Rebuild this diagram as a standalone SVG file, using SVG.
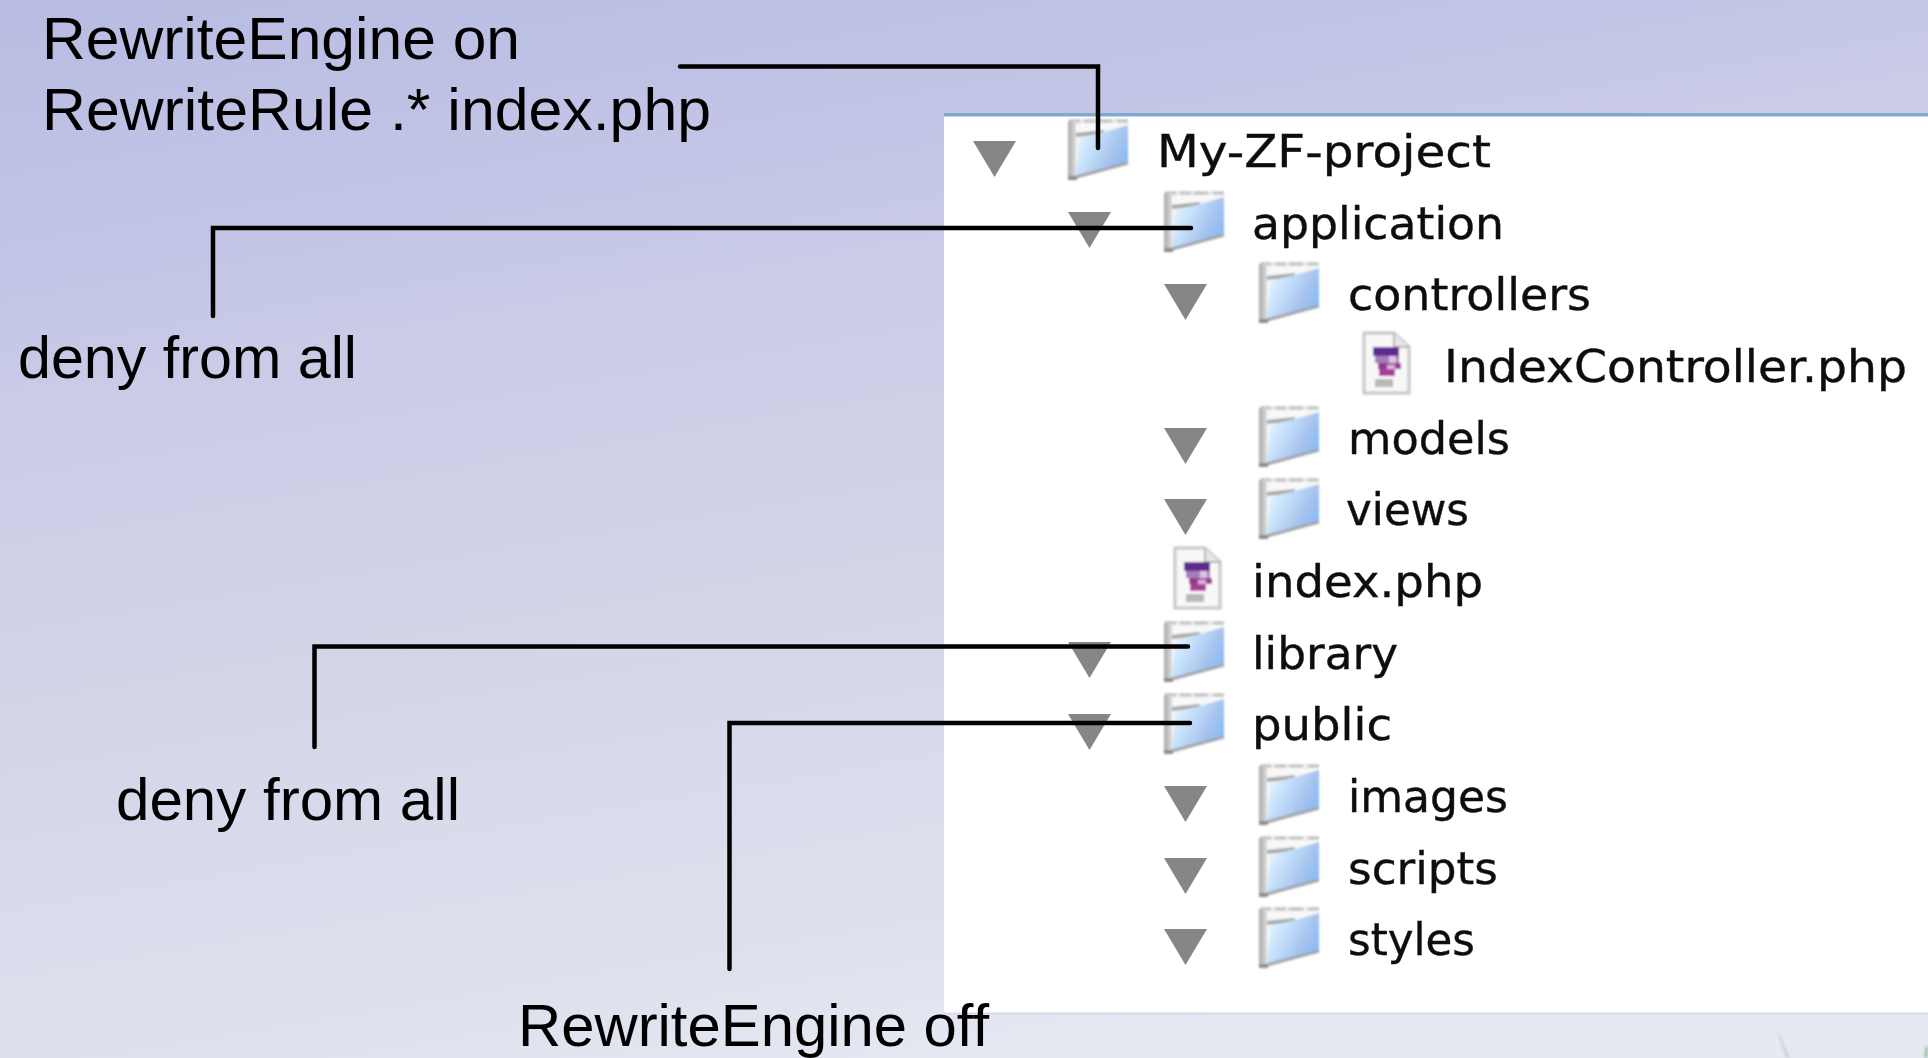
<svg xmlns="http://www.w3.org/2000/svg" xmlns:xlink="http://www.w3.org/1999/xlink" width="1928" height="1058" viewBox="0 0 1928 1058">
<style>
.callout{font-family:"Liberation Sans",Arial,sans-serif;font-size:60px;fill:#000}
.item{font-family:"DejaVu Sans",sans-serif;font-size:45px;fill:#111;stroke:#111;stroke-width:0.4;filter:url(#soft)}
.conn{fill:none;stroke:#000;stroke-width:4.5;stroke-linecap:round;stroke-linejoin:miter}
.tri{fill:#868686;filter:url(#soft)}
</style>
<defs>
<linearGradient id="bg" gradientUnits="userSpaceOnUse" x1="0" y1="0" x2="200" y2="1200">
<stop offset="0" stop-color="#b8bce2"/><stop offset="0.26" stop-color="#c4c7e6"/><stop offset="0.324" stop-color="#c9cbe7"/><stop offset="0.57" stop-color="#d2d5e8"/><stop offset="0.86" stop-color="#dde0ec"/><stop offset="1" stop-color="#e6e8f2"/>
</linearGradient>
<linearGradient id="blue" x1="0" y1="0.2" x2="1" y2="0.7">
<stop offset="0" stop-color="#e8f6ff"/><stop offset="0.35" stop-color="#c4e0fa"/><stop offset="0.7" stop-color="#a8c4ee"/><stop offset="1" stop-color="#86baf4"/>
</linearGradient>
<linearGradient id="side" x1="0" y1="0" x2="1" y2="0">
<stop offset="0" stop-color="#a8a8a8"/><stop offset="1" stop-color="#dedede"/>
</linearGradient>
<filter id="soft" x="-5%" y="-5%" width="110%" height="110%"><feGaussianBlur stdDeviation="0.7"/></filter>
<filter id="softer" x="-10%" y="-10%" width="120%" height="120%"><feGaussianBlur stdDeviation="1.1"/></filter>
<g id="folder" filter="url(#softer)">
<path d="M0 5 L60 4 L60 45 L8 62 L0 62 Z" fill="#f8f8f8"/>
<path d="M1 4 H60" stroke="#c4c4c4" stroke-width="3.5" fill="none"/>
<path d="M12 4 h4 M27 4 h3 M44 4 h5" stroke="#ececec" stroke-width="3.5" fill="none"/>
<rect x="0" y="4" width="8" height="58" fill="url(#side)"/>
<path d="M8 18 L36 15" stroke="#a8a8a8" stroke-width="4" fill="none"/>
<path d="M11 21 L36 15 L60 8 V45 L8 59 Z" fill="url(#blue)"/>
<path d="M8 60 L60 46" stroke="#a2a5aa" stroke-width="3" fill="none"/>
<rect x="0" y="59" width="9" height="4" fill="#8c8c8c"/>
</g>
<g id="phpfile" filter="url(#softer)">
<path d="M1 1 H31 L46 15 V61 H1 Z" fill="#f8f8f8" stroke="#c6c6c6" stroke-width="3"/>
<path d="M31 1 V15 H46" fill="#e6e6e6" stroke="#b8b8b8" stroke-width="2"/>
<rect x="10" y="15" width="26" height="9" fill="#5f2a8e"/>
<rect x="12" y="24" width="24" height="7" fill="#a87cb8"/>
<rect x="15" y="31" width="23" height="6" fill="#96388f"/>
<rect x="16" y="37" width="16" height="7" fill="#a93d9c"/>
<rect x="26" y="24" width="7" height="7" fill="#dcc4e0"/>
<rect x="24" y="33" width="8" height="4" fill="#d9b6d6"/>
<rect x="12" y="47" width="18" height="8" fill="#b8b8b8"/>
</g>
<path id="arrow" d="M0 0 H43 L21.5 36 Z"/>
</defs>

<rect id="background" width="1928" height="1058" fill="url(#bg)"/>
<g id="grass" filter="url(#softer)">
<path d="M1776 1028 L1783 1042 L1790 1058 L1786 1058 Z" fill="#c6d6d4"/>
<path d="M1924 1058 L1925 1047 L1928 1046 V1058 Z" fill="#a8c8b8"/>
</g>

<g id="panel">
<rect x="944" y="113" width="984" height="900" fill="#fff"/>
<rect x="944" y="113" width="984" height="3.5" fill="#80a9cf"/>
<rect x="944" y="1012.5" width="984" height="2" fill="#d8d9ec"/>
</g>

<g id="node-my-zf-project"><use xlink:href="#arrow" class="tri" x="973" y="141"/><use xlink:href="#folder" x="1068" y="117"/><text class="item" x="1157" y="167" textLength="334" lengthAdjust="spacingAndGlyphs">My-ZF-project</text></g>
<g id="node-application"><use xlink:href="#arrow" class="tri" x="1068" y="212"/><use xlink:href="#folder" x="1164" y="189"/><text class="item" x="1252" y="239" textLength="252" lengthAdjust="spacingAndGlyphs">application</text></g>
<g id="node-controllers"><use xlink:href="#arrow" class="tri" x="1164" y="284"/><use xlink:href="#folder" x="1259" y="260"/><text class="item" x="1348" y="310" textLength="243" lengthAdjust="spacingAndGlyphs">controllers</text></g>
<g id="node-indexcontroller"><use xlink:href="#phpfile" x="1363" y="332"/><text class="item" x="1444" y="382" textLength="463" lengthAdjust="spacingAndGlyphs">IndexController.php</text></g>
<g id="node-models"><use xlink:href="#arrow" class="tri" x="1164" y="428"/><use xlink:href="#folder" x="1259" y="404"/><text class="item" x="1348" y="454" textLength="162" lengthAdjust="spacingAndGlyphs">models</text></g>
<g id="node-views"><use xlink:href="#arrow" class="tri" x="1164" y="499"/><use xlink:href="#folder" x="1259" y="476"/><text class="item" x="1346" y="525" textLength="123" lengthAdjust="spacingAndGlyphs">views</text></g>
<g id="node-index-php"><use xlink:href="#phpfile" x="1174" y="547"/><text class="item" x="1252" y="597" textLength="231" lengthAdjust="spacingAndGlyphs">index.php</text></g>
<g id="node-library"><use xlink:href="#arrow" class="tri" x="1068" y="642"/><use xlink:href="#folder" x="1164" y="619"/><text class="item" x="1252" y="669" textLength="146" lengthAdjust="spacingAndGlyphs">library</text></g>
<g id="node-public"><use xlink:href="#arrow" class="tri" x="1068" y="714"/><use xlink:href="#folder" x="1164" y="691"/><text class="item" x="1252" y="740" textLength="140" lengthAdjust="spacingAndGlyphs">public</text></g>
<g id="node-images"><use xlink:href="#arrow" class="tri" x="1164" y="786"/><use xlink:href="#folder" x="1259" y="762"/><text class="item" x="1348" y="812" textLength="160" lengthAdjust="spacingAndGlyphs">images</text></g>
<g id="node-scripts"><use xlink:href="#arrow" class="tri" x="1164" y="858"/><use xlink:href="#folder" x="1259" y="834"/><text class="item" x="1348" y="884" textLength="150" lengthAdjust="spacingAndGlyphs">scripts</text></g>
<g id="node-styles"><use xlink:href="#arrow" class="tri" x="1164" y="929"/><use xlink:href="#folder" x="1259" y="905"/><text class="item" x="1348" y="955" textLength="127" lengthAdjust="spacingAndGlyphs">styles</text></g>

<g id="connectors">
<path class="conn" d="M680 66.5 H1098 V148"/>
<path class="conn" d="M213 316 V228 H1191"/>
<path class="conn" d="M314.5 747 V646.5 H1188"/>
<path class="conn" d="M729.5 969 V723 H1190"/>
</g>

<g id="labels">
<text class="callout" x="42" y="59" textLength="478" lengthAdjust="spacingAndGlyphs">RewriteEngine on</text>
<text class="callout" x="42" y="130" textLength="669" lengthAdjust="spacingAndGlyphs">RewriteRule .* index.php</text>
<text class="callout" x="18" y="378" textLength="339" lengthAdjust="spacingAndGlyphs">deny from all</text>
<text class="callout" x="116" y="820" textLength="344" lengthAdjust="spacingAndGlyphs">deny from all</text>
<text class="callout" x="518" y="1046" textLength="471" lengthAdjust="spacingAndGlyphs">RewriteEngine off</text>
</g>
</svg>
